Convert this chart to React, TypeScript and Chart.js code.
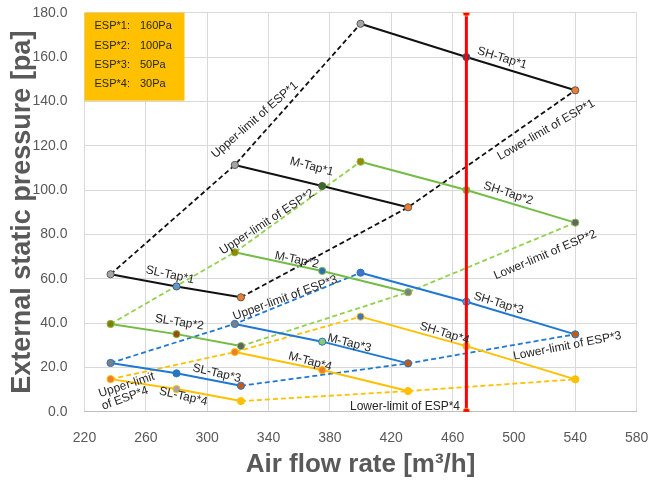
import React, { useEffect, useRef } from "react";
import { Chart, registerables } from "chart.js";

Chart.register(...registerables);

// Air flow of the three points of each tap curve [m3/h]
const slFlow = [237, 280, 322];
const mFlow = [318, 375, 431];
const shFlow = [400, 469, 540];

// External static pressure [Pa] per tap curve
const esp1SL = [62.0, 56.5, 51.6];
const esp1M = [111.3, 101.8, 92.2];
const esp1SH = [175.0, 160.0, 145.0];

const esp2SL = [39.6, 35.0, 29.6];
const esp2M = [71.9, 63.5, 53.9];
const esp2SH = [112.8, 100.0, 85.3];

const esp3SL = [22.0, 17.3, 11.7];
const esp3M = [39.6, 31.6, 21.8];
const esp3SH = [62.7, 49.6, 34.9];

const esp4SL = [14.7, 10.2, 4.8];
const esp4M = [26.9, 18.8, 9.3];
const esp4SH = [42.9, 29.6, 14.6];

// Rated air flow marker
const ratedFlow = 469;
const ratedRange = [0, 180];

// Legend box
const espNames = ["ESP*1:", "ESP*2:", "ESP*3:", "ESP*4:"];
const espPressures = ["160Pa", "100Pa", "50Pa", "30Pa"];

// Axis ranges
const xMin = 220, xMax = 580, xStep = 40;
const yMin = 0, yMax = 180, yStep = 20;

// Curve annotations (text, data x, data y, angle deg)
const curveLabels: { t: string; x: number; y: number; a: number }[] = [
  { t: "Upper-limit of ESP*1", x: 331, y: 131.6, a: -41 },
  { t: "SH-Tap*1", x: 492.3, y: 159.5, a: 17 },
  { t: "Lower-limit of ESP*1", x: 521, y: 127.1, a: -30 },
  { t: "M-Tap*1", x: 368.2, y: 110.5, a: 15 },
  { t: "Upper-limit of ESP*2", x: 339, y: 85.6, a: -33 },
  { t: "SL-Tap*1", x: 275.8, y: 61.7, a: 12 },
  { t: "M-Tap*2", x: 358.4, y: 68.4, a: 12 },
  { t: "Upper-limit of ESP*3", x: 350.8, y: 51.3, a: -20 },
  { t: "SH-Tap*2", x: 496.3, y: 98.5, a: 18 },
  { t: "Lower-limit of ESP*2", x: 520.4, y: 70.7, a: -23 },
  { t: "SL-Tap*2", x: 281.8, y: 40.3, a: 9 },
  { t: "M-Tap*3", x: 392.7, y: 30.9, a: 14 },
  { t: "M-Tap*4", x: 367.1, y: 22.6, a: 15 },
  { t: "SL-Tap*3", x: 306.2, y: 17.3, a: 13 },
  { t: "SL-Tap*4", x: 284.4, y: 6.8, a: 13 },
  { t: "Upper-limit", x: 247.5, y: 12.0, a: -18 },
  { t: "of ESP*4", x: 246.4, y: 6.0, a: -20 },
  { t: "SH-Tap*3", x: 489.9, y: 48.9, a: 17 },
  { t: "SH-Tap*4", x: 454.7, y: 35.4, a: 17 },
  { t: "Lower-limit of ESP*3", x: 534.8, y: 29.6, a: -11 },
  { t: "Lower-limit of ESP*4", x: 429, y: 2.3, a: 0 },
];

type Group = {
  sl: number[];
  m: number[];
  sh: number[];
  solid: string;
  dash: string;
  border: string;
  mk: { sl: string[]; m: string[]; sh: string[] };
};

const groups: Group[] = [
  {
    sl: esp1SL, m: esp1M, sh: esp1SH,
    solid: "#111111", dash: "#111111", border: "#595959",
    mk: {
      sl: ["#A5A5A5", "#5B9BD5", "#ED7D31"],
      m: ["#A5A5A5", "#3A6B22", "#ED7D31"],
      sh: ["#A5A5A5", "#264478", "#ED7D31"],
    },
  },
  {
    sl: esp2SL, m: esp2M, sh: esp2SH,
    solid: "#74BC45", dash: "#92D050", border: "#7CC04A",
    mk: {
      sl: ["#8A7A00", "#9C4A12", "#636363"],
      m: ["#A08000", "#2E6EB0", "#7F7F7F"],
      sh: ["#9E8600", "#70AD47", "#636363"],
    },
  },
  {
    sl: esp3SL, m: esp3M, sh: esp3SH,
    solid: "#1F78D1", dash: "#1F78D1", border: "#1F78D1",
    mk: {
      sl: ["#7F7F7F", "#2E75B6", "#C55A11"],
      m: ["#7F7F7F", "#8CC96B", "#C55A11"],
      sh: ["#4472C4", "#5B9BD5", "#C55A11"],
    },
  },
  {
    sl: esp4SL, m: esp4M, sh: esp4SH,
    solid: "#FFC000", dash: "#FFC000", border: "#FFC000",
    mk: {
      sl: ["#ED7D31", "#A5A5A5", "#FFC000"],
      m: ["#ED7D31", "#ED7D31", "#FFC000"],
      sh: ["#4472C4", "#C8BE6A", "#FFC000"],
    },
  },
];

const pts = (xs: number[], ys: number[]) => xs.map((x, i) => ({ x, y: ys[i] }));

function buildDatasets() {
  const solids: any[] = [];
  const dashes: any[] = [];
  groups.forEach((g) => {
    const taps: [number[], number[], string[]][] = [
      [slFlow, g.sl, g.mk.sl],
      [mFlow, g.m, g.mk.m],
      [shFlow, g.sh, g.mk.sh],
    ];
    taps.forEach(([xs, ys, cols]) => {
      solids.push({
        data: pts(xs, ys),
        showLine: true,
        borderColor: g.solid,
        borderWidth: 2,
        pointRadius: 3.6,
        pointBackgroundColor: cols,
        pointBorderColor: g.border,
        pointBorderWidth: 1,
      });
    });
    const upper = pts(
      [slFlow[0], mFlow[0], shFlow[0]],
      [g.sl[0], g.m[0], g.sh[0]]
    );
    const lower = pts(
      [slFlow[2], mFlow[2], shFlow[2]],
      [g.sl[2], g.m[2], g.sh[2]]
    );
    [upper, lower].forEach((d) =>
      dashes.push({
        data: d,
        showLine: true,
        borderColor: g.dash,
        borderWidth: 1.8,
        borderDash: [5, 3],
        pointRadius: 0,
      })
    );
  });
  const rated = {
    data: pts([ratedFlow, ratedFlow], ratedRange),
    showLine: true,
    borderColor: "#FF0000",
    borderWidth: 3,
    pointRadius: 3.5,
    pointBackgroundColor: "#FF0000",
    pointBorderColor: "#FFA040",
    pointBorderWidth: 1,
  };
  return [rated, ...solids, ...dashes];
}

const textPlugin = {
  id: "textPlugin",
  beforeDatasetsDraw(chart: any) {
    const { ctx, chartArea } = chart;
    ctx.save();
    ctx.fillStyle = "#FFC000";
    ctx.fillRect(chartArea.left, chartArea.top, 100, 88);
    ctx.fillStyle = "#262626";
    ctx.font = "11px 'Liberation Sans'";
    ctx.textBaseline = "middle";
    ctx.textAlign = "left";
    espNames.forEach((n, i) => {
      const yy = chartArea.top + 13.5 + i * 19.3;
      ctx.fillText(n, chartArea.left + 10, yy);
      ctx.fillText(espPressures[i], chartArea.left + 55.5, yy);
    });
    ctx.restore();
  },
  afterDatasetsDraw(chart: any) {
    const { ctx } = chart;
    const xs = chart.scales.x;
    const ys = chart.scales.y;
    ctx.save();
    ctx.fillStyle = "#262626";
    ctx.font = "12px 'Liberation Sans'";
    ctx.textAlign = "center";
    ctx.textBaseline = "middle";
    curveLabels.forEach((l) => {
      ctx.save();
      ctx.translate(xs.getPixelForValue(l.x), ys.getPixelForValue(l.y));
      ctx.rotate((l.a * Math.PI) / 180);
      ctx.fillText(l.t, 0, 0);
      ctx.restore();
    });
    ctx.restore();
  },
};

export default function App() {
  const ref = useRef<HTMLCanvasElement | null>(null);
  useEffect(() => {
    if (!ref.current) return;
    const chart = new Chart(ref.current, {
      type: "scatter",
      data: { datasets: buildDatasets() as any },
      options: {
        animation: false,
        responsive: false,
        devicePixelRatio: 1,
        layout: { padding: { left: 0, right: 11.4, top: 12.7, bottom: 0 } },
        plugins: { legend: { display: false }, tooltip: { enabled: false } },
        scales: {
          x: {
            type: "linear",
            min: xMin,
            max: xMax,
            ticks: {
              stepSize: xStep,
              color: "#595959",
              font: { size: 14, family: "'Liberation Sans'" },
              padding: 18,
              maxRotation: 0,
            },
            grid: { color: "#D9D9D9", drawTicks: false },
            border: { color: "#BFBFBF" },
            title: {
              display: true,
              text: "Air flow rate [m³/h]",
              color: "#595959",
              font: { size: 26, weight: "bold", family: "'Liberation Sans'" },
              padding: { top: 2, bottom: 3.5 },
            },
            afterFit: (s: any) => {
              s.height = 72.3;
              s.paddingLeft = 0;
              s.paddingRight = 0;
            },
          },
          y: {
            min: yMin,
            max: yMax,
            ticks: {
              stepSize: yStep,
              color: "#595959",
              font: { size: 14, family: "'Liberation Sans'" },
              padding: 17,
              callback: (v: any) => Number(v).toFixed(1),
            },
            grid: { color: "#D9D9D9", drawTicks: false },
            border: { display: false },
            title: {
              display: true,
              text: "External static pressure [pa]",
              color: "#595959",
              font: { size: 27, weight: "bold", family: "'Liberation Sans'" },
              padding: { top: 6, bottom: 0 },
            },
            afterFit: (s: any) => {
              s.width = 84.5;
              s.paddingTop = 0;
              s.paddingBottom = 0;
            },
          },
        },
      },
      plugins: [textPlugin],
    });
    return () => chart.destroy();
  }, []);
  return (
    <canvas
      ref={ref}
      width={648}
      height={484}
      style={{ position: "absolute", left: 0, top: 0, width: 648, height: 484 }}
    />
  );
}
